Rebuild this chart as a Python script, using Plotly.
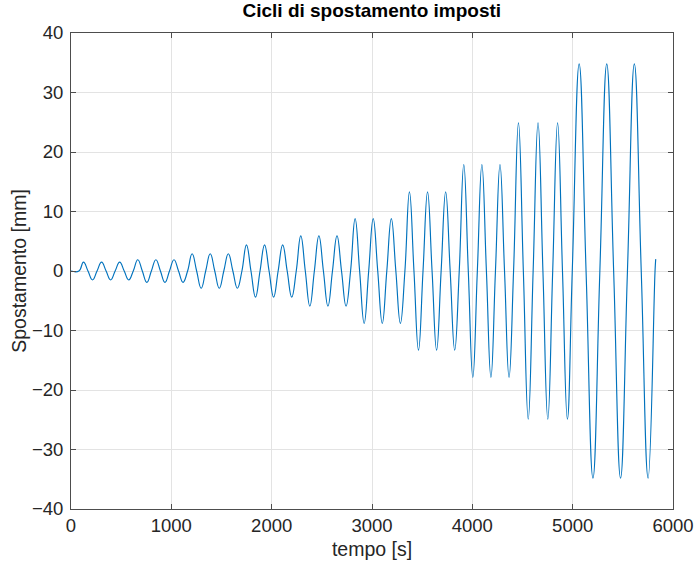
import plotly.graph_objects as go

# Imposed displacement protocol: each amplitude level is repeated for a set
# number of cycles, with its own cycle period.
amplitudes_mm = [1.5, 1.9, 2.9, 4.4, 5.9, 8.8, 13.3, 17.9, 24.9, 34.8]
periods_s = [180.5, 180.5, 180.5, 180.5, 180.5, 180.5, 180.5, 180.5, 195.0, 275.0]
cycles_per_level = [3, 3, 3, 3, 3, 3, 3, 3, 3, 3]
start_time_s = 79.0
final_point = (5828.0, 2.0)

x_ticks = [0, 1000, 2000, 3000, 4000, 5000, 6000]
y_ticks = [-40, -30, -20, -10, 0, 10, 20, 30, 40]

# Turning points of the history (zero crossings, peaks, troughs);
# the curve between them is smoothed by the spline line shape.
t_pts = [0.0, start_time_s]
d_pts = [0.0, 0.0]
t = start_time_s
for amp, per, n in zip(amplitudes_mm, periods_s, cycles_per_level):
    for _ in range(n):
        t_pts += [t + per / 4, t + per / 2, t + 3 * per / 4, t + per]
        d_pts += [amp, 0.0, -amp, 0.0]
        t += per
t_pts.append(final_point[0])
d_pts.append(final_point[1])

FONT = "Liberation Sans, Arial, Helvetica, sans-serif"
AXIS_COLOR = "#4d4d4d"
GRID_COLOR = "#e3e3e3"
TEXT_COLOR = "#262626"

fig = go.Figure(
    go.Scatter(
        x=t_pts,
        y=d_pts,
        mode="lines",
        line=dict(color="#0072BD", width=1.15, shape="spline", smoothing=1.3),
        showlegend=False,
    )
)

axis_common = dict(
    automargin=False,
    showline=True,
    linecolor=AXIS_COLOR,
    linewidth=1,
    mirror="ticks",
    ticks="inside",
    ticklen=5,
    tickwidth=1,
    tickcolor=AXIS_COLOR,
    showgrid=True,
    gridcolor=GRID_COLOR,
    gridwidth=1,
    zeroline=False,
    tickfont=dict(family=FONT, size=18.5, color=TEXT_COLOR),
)

fig.update_layout(
    width=695,
    height=565,
    margin=dict(l=71, r=22, t=33, b=56),
    paper_bgcolor="white",
    plot_bgcolor="white",
    title=dict(
        text="<b>Cicli di spostamento imposti</b>",
        x=0.535,
        xanchor="center",
        y=0.993,
        yanchor="top",
        font=dict(family=FONT, size=19, color="black"),
    ),
    xaxis=dict(
        range=[0, 6000],
        tickvals=x_ticks,
        title=dict(text="tempo [s]", font=dict(family=FONT, size=19.5, color=TEXT_COLOR), standoff=7),
        **axis_common,
    ),
    yaxis=dict(
        range=[-40, 40],
        tickvals=y_ticks,
        ticklabelstandoff=3,
        title=dict(text="Spostamento [mm]", font=dict(family=FONT, size=19.5, color=TEXT_COLOR), standoff=0),
        **axis_common,
    ),
)

fig.write_html("out.html")
